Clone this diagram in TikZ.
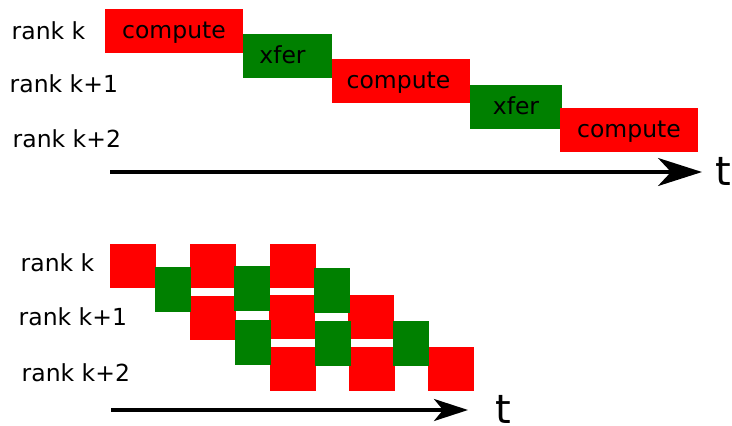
\documentclass[tikz,border=0pt]{standalone}
\usepackage{fontspec}
\setmainfont{DejaVu Sans}
\usetikzlibrary{arrows.meta}
\definecolor{cred}{RGB}{255,0,0}
\definecolor{cgreen}{RGB}{0,128,0}
\begin{document}
\begin{tikzpicture}[x=1pt,y=-1pt,
  lbl/.style={anchor=base west,inner sep=0pt,font=\fontsize{23.5}{28}\selectfont},
  tlbl/.style={anchor=base west,inner sep=0pt,font=\fontsize{40}{48}\selectfont},
  blk/.style={inner sep=0pt,minimum height=44pt,text height=15pt,text depth=0pt,font=\fontsize{23.5}{28}\selectfont},
  cbox/.style={blk,fill=cred,minimum width=138pt},
  xbox/.style={blk,fill=cgreen},
  sr/.style={inner sep=0pt,fill=cred,minimum width=46pt,minimum height=44pt},
  sg/.style={inner sep=0pt,fill=cgreen,minimum width=36pt,minimum height=45pt},
  axis/.style={line width=3.3pt}
]
\useasboundingbox (0,0) rectangle (732,426);
% ---- top ----
\node[lbl] (la) at (11.5,39.3) {rank k};
\node[lbl] (lb) at (9.5,92.3) {rank k+1};
\node[lbl] (lc) at (12.5,147.3) {rank k+2};
\node[cbox] (c1) at (174,31) {compute};
\node[xbox,minimum width=89pt] (x1) at (287.5,56) {\hspace*{-10pt}xfer};
\node[cbox] (c2) at (401,81) {\hspace*{-5pt}compute};
\node[xbox,minimum width=92pt] (x2) at (516,107) {xfer};
\node[cbox] (c3) at (629,130) {compute};
\coordinate (a1) at (110,172);
\coordinate (a2) at (702,172);
\draw[axis,-{Stealth[length=44pt,width=28pt,inset=13pt]}] (a1) -- (a2);
\node[tlbl] (t1) at (715,185) {t};
% ---- bottom ----
\node[lbl] (ld) at (20.5,271) {rank k};
\node[lbl] (le) at (18.5,325) {rank k+1};
\node[lbl] (lf) at (21.5,381) {rank k+2};
\node[sr] (r1) at (133,266) {};
\node[sr] (r2) at (213,266) {};
\node[sr] (r3) at (293,266) {};
\node[sr] (r4) at (213,318) {};
\node[sr] (r5) at (292,317) {};
\node[sr] (r6) at (371,317) {};
\node[sr] (r7) at (293,369) {};
\node[sr] (r8) at (372,369) {};
\node[sr] (r9) at (451,369) {};
\node[sg] (g1) at (173,289.5) {};
\node[sg] (g2) at (252,288.5) {};
\node[sg] (g3) at (332,290.5) {};
\node[sg] (g4) at (253,342.5) {};
\node[sg] (g5) at (333,343.5) {};
\node[sg] (g6) at (411,343.5) {};
\coordinate (b1) at (111,410);
\coordinate (b2) at (468,410);
\draw[axis,line width=3.1pt,-{Stealth[length=34pt,width=22pt,inset=9pt]}] (b1) -- (b2);
\node[tlbl] (t2) at (495,423) {t};
\end{tikzpicture}
\end{document}
